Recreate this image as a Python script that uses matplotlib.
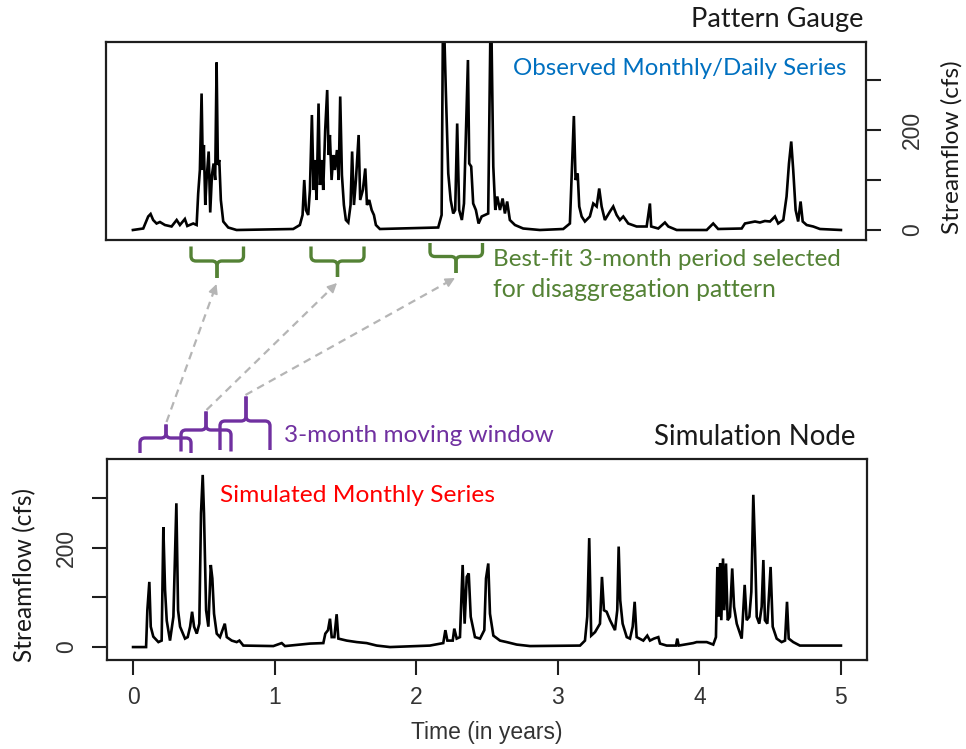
import matplotlib
matplotlib.use("Agg")
import matplotlib.pyplot as plt
from matplotlib.path import Path
from matplotlib.patches import PathPatch

# ---------------- data ----------------
obs_t = [0.0, 0.073, 0.108, 0.125, 0.143, 0.167, 0.191, 0.226, 0.273, 0.309, 0.332, 0.367, 0.384, 0.426, 0.45,
         0.461, 0.473, 0.485, 0.494, 0.501, 0.511, 0.52, 0.535, 0.546, 0.558, 0.570, 0.581, 0.591, 0.600, 0.610,
         0.621, 0.638, 0.673, 0.732, 1.132, 1.179, 1.198, 1.210, 1.222, 1.238, 1.250, 1.264, 1.276, 1.285, 1.297,
         1.311, 1.321, 1.333, 1.344, 1.358, 1.372, 1.382, 1.391, 1.403, 1.415, 1.426, 1.441, 1.453, 1.464, 1.476,
         1.490, 1.504, 1.521, 1.537, 1.548, 1.561, 1.575, 1.594, 1.605, 1.624, 1.641, 1.653, 1.669, 1.686, 1.702,
         1.716, 1.744, 2.156, 2.180, 2.191, 2.210, 2.227, 2.244, 2.262, 2.276, 2.290, 2.304, 2.323, 2.338, 2.352,
         2.366, 2.375, 2.389, 2.403, 2.422, 2.441, 2.463, 2.486, 2.509, 2.528, 2.545, 2.559, 2.573, 2.592, 2.611,
         2.627, 2.643, 2.662, 2.698, 2.756, 2.874, 3.039, 3.086, 3.102, 3.114, 3.126, 3.141, 3.152, 3.169, 3.192,
         3.227, 3.251, 3.275, 3.293, 3.310, 3.333, 3.369, 3.392, 3.416, 3.439, 3.463, 3.498, 3.557, 3.628, 3.651,
         3.660, 3.710, 3.757, 3.781, 3.840, 4.052, 4.098, 4.133, 4.299, 4.322, 4.357, 4.393, 4.428, 4.463, 4.499,
         4.534, 4.557, 4.593, 4.616, 4.633, 4.649, 4.663, 4.680, 4.698, 4.715, 4.730, 4.758, 4.804, 4.852, 5.0]
obs_q = [0, 3, 27, 32, 20, 13, 16, 10, 7, 20, 10, 22, 8, 13, 10,
         73, 120, 273, 120, 170, 50, 100, 157, 35, 110, 133, 100, 335, 130, 140,
         60, 17, 5, 0, 2, 10, 30, 100, 40, 30, 80, 230, 80, 140, 60,
         253, 90, 140, 80, 200, 280, 150, 190, 100, 150, 120, 160, 100, 267, 110,
         50, 20, 15, 50, 157, 50, 100, 190, 60, 80, 123, 50, 60, 40, 30,
         10, 2, 5, 30, 480, 277, 113, 60, 33, 40, 213, 40, 20, 53, 200,
         340, 133, 127, 53, 40, 13, 27, 30, 33, 480, 127, 40, 67, 40, 63,
         33, 57, 20, 10, 3, 0, 2, 13, 133, 228, 100, 113, 47, 27, 17,
         27, 53, 47, 83, 47, 20, 37, 47, 30, 20, 27, 13, 7, 7, 53,
         7, 3, 15, 7, 0, 0, 13, 2, 3, 13, 15, 17, 15, 18, 17,
         27, 13, 20, 67, 133, 177, 120, 40, 17, 57, 17, 10, 7, 2, 0]

sim_t = [0.0, 0.092, 0.101, 0.115, 0.125, 0.143, 0.179, 0.202, 0.214, 0.226, 0.238, 0.261, 0.285, 0.306, 0.318,
         0.332, 0.367, 0.386, 0.403, 0.417, 0.431, 0.450, 0.468, 0.480, 0.492, 0.501, 0.516, 0.532, 0.549, 0.560,
         0.572, 0.591, 0.614, 0.648, 0.662, 0.697, 0.732, 0.751, 0.779, 0.991, 1.050, 1.073, 1.25, 1.344, 1.358,
         1.377, 1.391, 1.403, 1.422, 1.438, 1.450, 1.509, 1.580, 1.650, 1.721, 1.815, 2.097, 2.191, 2.206, 2.220,
         2.258, 2.269, 2.286, 2.309, 2.328, 2.342, 2.357, 2.371, 2.385, 2.415, 2.451, 2.481, 2.493, 2.509, 2.521,
         2.545, 2.592, 2.639, 2.710, 2.804, 3.157, 3.192, 3.208, 3.222, 3.236, 3.263, 3.298, 3.312, 3.326, 3.345,
         3.369, 3.404, 3.420, 3.430, 3.441, 3.458, 3.487, 3.510, 3.529, 3.543, 3.557, 3.604, 3.632, 3.651, 3.679,
         3.710, 3.722, 3.769, 3.835, 3.844, 3.854, 3.957, 3.981, 4.052, 4.098, 4.117, 4.127, 4.137, 4.147, 4.155,
         4.167, 4.176, 4.188, 4.200, 4.216, 4.232, 4.245, 4.264, 4.299, 4.320, 4.334, 4.353, 4.367, 4.381, 4.393,
         4.405, 4.423, 4.440, 4.452, 4.463, 4.480, 4.503, 4.518, 4.546, 4.581, 4.605, 4.619, 4.631, 4.663, 4.710, 5.0]
sim_q = [0, 0, 74, 131, 41, 21, 10, 13, 241, 115, 53, 13, 61, 289, 74,
         41, 17, 20, 41, 71, 41, 27, 47, 269, 346, 269, 74, 41, 165, 138,
         67, 27, 20, 47, 20, 13, 10, 13, 3, 2, 8, 2, 7, 8, 27,
         34, 57, 20, 20, 66, 17, 13, 10, 8, 3, 0, 3, 8, 34, 13,
         13, 37, 17, 20, 165, 47, 141, 148, 61, 20, 17, 34, 138, 168, 67,
         23, 13, 10, 5, 2, 3, 13, 61, 219, 23, 30, 47, 141, 74, 71,
         54, 34, 74, 202, 94, 47, 20, 17, 41, 91, 20, 13, 23, 13, 17,
         20, 7, 3, 3, 17, 3, 8, 10, 10, 5, 20, 161, 61, 168, 54,
         178, 74, 168, 54, 61, 158, 81, 47, 17, 125, 54, 61, 111, 306, 199,
         61, 47, 81, 175, 54, 47, 161, 41, 17, 10, 13, 91, 17, 10, 3, 3]

y_ticks = [0, 100, 200, 300]
y_tick_labels = ["0", "", "200", ""]
x_ticks = [0, 1, 2, 3, 4, 5]
x_tick_labels = ["0", "1", "2", "3", "4", "5"]

# ---------------- layout ----------------
W, H = 966, 749
fig = plt.figure(figsize=(W / 100, H / 100), dpi=100)


def frac(l, t, r, b):
    return [l / W, 1 - b / H, (r - l) / W, (b - t) / H]


TXT = "Lato"
NUM = "Liberation Sans"
FRAME = "#1e1e1e"
GREEN = "#548235"
PURPLE = "#7030A0"
BLUE = "#0070C0"
RED = "#FF0000"
GREY = "#b5b5b5"

ax1 = fig.add_axes(frac(106, 42, 866, 240))
ax2 = fig.add_axes(frac(107, 459, 867, 660))

for ax in (ax1, ax2):
    for sp in ax.spines.values():
        sp.set_linewidth(1.6)
        sp.set_color(FRAME)

# top panel
ax1.plot(obs_t, obs_q, color="black", lw=1.9, solid_joinstyle="miter")
ax1.set_xlim(-0.19, 5.177)
ax1.set_ylim(-20, 376)
ax1.set_xticks([])
ax1.yaxis.tick_right()
ax1.set_yticks(y_ticks)
ax1.set_yticklabels(y_tick_labels, rotation=90, va="center", fontfamily=NUM, fontsize=16.5, color="#333333")
ax1.tick_params(axis="y", length=11, width=1.5, color=FRAME, pad=14)

# bottom panel
ax2.plot(sim_t, sim_q, color="black", lw=1.9, solid_joinstyle="miter")
ax2.set_xlim(-0.184, 5.184)
ax2.set_ylim(-26, 378)
ax2.set_yticks(y_ticks)
ax2.set_yticklabels(y_tick_labels, rotation=90, va="center", fontfamily=NUM, fontsize=16.5, color="#333333")
ax2.set_xticks(x_ticks)
ax2.set_xticklabels(x_tick_labels, fontfamily=NUM, fontsize=16.5, color="#333333")
ax2.tick_params(axis="y", length=11, width=1.5, color=FRAME, pad=10)
ax2.tick_params(axis="x", length=11, width=1.5, color=FRAME, pad=8)

# overlay in pixel coordinates for annotations
ov = fig.add_axes([0, 0, 1, 1], zorder=5)
ov.set_xlim(0, W)
ov.set_ylim(H, 0)
ov.axis("off")
ov.patch.set_alpha(0)

renderer = fig.canvas.get_renderer()


def fit_text(x, y, s, width, rotation=0, **kw):
    t = ov.text(x, y, s, fontsize=20, rotation=rotation, **kw)
    bb = t.get_window_extent(renderer)
    size = bb.height if rotation == 90 else bb.width
    t.set_fontsize(20 * width / size)
    return t


fit_text(863, 27.5, "Pattern Gauge", 173, ha="right", va="baseline", fontfamily=TXT, color="#1a1a1a")
fit_text(513, 75, "Observed Monthly/Daily Series", 334, ha="left", va="baseline", fontfamily=TXT, color=BLUE)
fit_text(493, 266, "Best-fit 3-month period selected", 349, ha="left", va="baseline", fontfamily=TXT, color=GREEN)
fit_text(493, 297, "for disaggregation pattern", 284, ha="left", va="baseline", fontfamily=TXT, color=GREEN)
fit_text(284, 441.5, "3-month moving window", 269, ha="left", va="baseline", fontfamily=TXT, color=PURPLE)
fit_text(855, 445, "Simulation Node", 202, ha="right", va="baseline", fontfamily=TXT, color="#1a1a1a")
fit_text(220, 501.5, "Simulated Monthly Series", 275, ha="left", va="baseline", fontfamily=TXT, color=RED)
fit_text(952, 147, "Streamflow (cfs)", 173, rotation=90, ha="center", va="center", fontfamily=TXT, color="#1a1a1a")
fit_text(25, 575, "Streamflow (cfs)", 174, rotation=90, ha="center", va="center", fontfamily=TXT, color="#1a1a1a")
fit_text(487, 733, "Time (in years)", 152, ha="center", va="center", fontfamily=NUM, color="#333333")


def brace(xl, xr, xc, y_arm, y_h, y_stem, color, r=5, lw=2.4):
    sa = 1 if y_arm > y_h else -1
    ss = 1 if y_stem > y_h else -1
    for x0, d in ((xl, 1), (xr, -1)):
        verts = [(x0, y_arm), (x0, y_h + sa * r), (x0, y_h), (x0 + d * r, y_h),
                 (xc - d * r, y_h), (xc, y_h), (xc, y_h + ss * r), (xc, y_stem)]
        codes = [Path.MOVETO, Path.LINETO, Path.CURVE3, Path.CURVE3,
                 Path.LINETO, Path.CURVE3, Path.CURVE3, Path.LINETO]
        ov.add_patch(PathPatch(Path(verts, codes), fill=False, edgecolor=color, lw=lw,
                               capstyle="butt", joinstyle="round"))


# green braces (best-fit periods)
brace(191, 243.5, 217, 246.5, 261, 278, GREEN)
brace(311, 364, 337.5, 246.5, 261, 277, GREEN)
brace(430, 482.5, 456, 243, 256.5, 273, GREEN)

# purple braces (moving window)
brace(140, 191, 166, 453, 438, 424.5, PURPLE)
brace(181, 231, 206, 451.5, 430, 411.5, PURPLE)
brace(220, 270, 246, 450, 421, 396.5, PURPLE)


def dashed_arrow(tail, head):
    dx, dy = head[0] - tail[0], head[1] - tail[1]
    L = (dx * dx + dy * dy) ** 0.5
    ux, uy = dx / L, dy / L
    near = (head[0] - ux * 9, head[1] - uy * 9)
    ov.plot([tail[0], near[0]], [tail[1], near[1]], color=GREY, lw=1.6, ls=(0, (3.5, 2.5)))
    ov.annotate("", xy=head, xytext=near,
                arrowprops=dict(arrowstyle="-|>", color=GREY, lw=1.2, shrinkA=0, shrinkB=0,
                                mutation_scale=14))


dashed_arrow((166.5, 422), (216.5, 284))
dashed_arrow((206.5, 410), (337, 283))
dashed_arrow((245.5, 395), (455, 278))

fig.savefig("out.png", dpi=100)
